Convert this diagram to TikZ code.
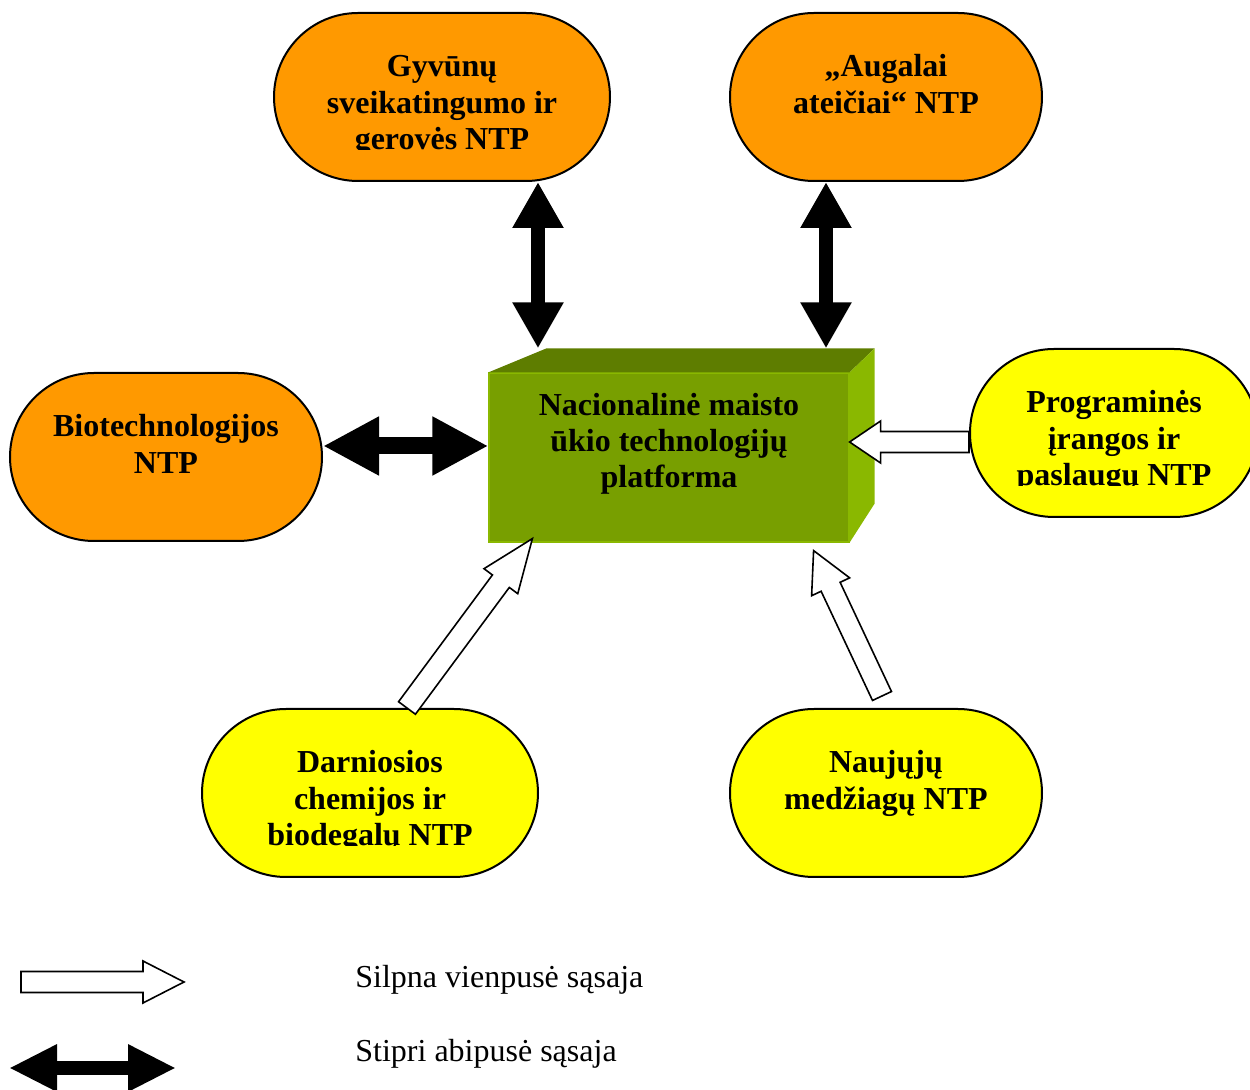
\documentclass[tikz,border=0pt]{standalone}
\usepackage{fontspec}
\setmainfont{Liberation Serif}
\usetikzlibrary{calc,arrows.meta}
\definecolor{ntporange}{HTML}{FF9900}
\definecolor{ntpyellow}{HTML}{FFFF00}
\definecolor{platfront}{HTML}{789F00}
\definecolor{plattop}{HTML}{5E7D00}
\definecolor{platside}{HTML}{8AB800}
\tikzset{
  ntp/.style={rectangle, draw, line width=1pt, rounded corners=42pt, minimum height=84pt, inner sep=0pt},
  ntptext/.style={align=center, font=\fontsize{16}{18.2}\selectfont\bfseries, inner sep=0pt},
  legtext/.style={font=\fontsize{16}{18}\selectfont, inner sep=0pt},
  platbox/.style={rectangle, fill=platfront, draw=platside, line width=0.6pt, minimum width=180pt, minimum height=84.5pt, inner sep=0pt},
  silpnaline/.style={draw, line width=0.8pt, fill=white, line join=miter}
}
\newcommand{\ntpnode}[5] {\node at (#1) (#2) [ntp, fill=#3, minimum width=#4] {};
  \begin{scope}
  \clip ([yshift=1pt]#2.north west) rectangle ([yshift=16pt]#2.south east);
  \node at ([yshift=-19.4pt]#2.north) (#2txt) [ntptext, anchor=north] {\strut #5};
  \end{scope}}
\newcommand{\silpnaarrow}[3] {\coordinate (nk) at ($(#2)!#3!(#1)$);
  \draw [silpnaline] ($(#1)!5.25pt!90:(#2)$) -- ($(nk)!5.25pt!90:(#2)$) -- ($(nk)!10.5pt!90:(#2)$) -- (#2)
    -- ($(nk)!10.5pt!-90:(#2)$) -- ($(nk)!5.25pt!-90:(#2)$) -- ($(#1)!5.25pt!-90:(#2)$) -- cycle;}
\newcommand{\stipriarrow}[5] {\draw [line width=#3, {Triangle[length=#5,width=#4]}-{Triangle[length=#5,width=#4]}] (#1) -- (#2);}
\begin{document}
\begin{tikzpicture}[x=0.5pt, y=-0.5pt]
\clip (0,0) rectangle (1250,1090);

\ntpnode {442,97} {gyv} {ntporange} {168pt} {Gyvūnų\\ sveikatingumo ir\\ gerovės NTP};
\ntpnode {886,97} {aug} {ntporange} {156pt} {„Augalai\\ ateičiai“ NTP};
\ntpnode {166,457} {bio} {ntporange} {156pt} {Biotechnologijos\\ NTP};
\ntpnode {1114,433} {prog} {ntpyellow} {144pt} {Programinės\\ įrangos ir\\ paslaugų NTP};
\ntpnode {370,793} {darn} {ntpyellow} {168pt} {Darniosios\\ chemijos ir\\ biodegalų NTP};
\ntpnode {886,793} {nauj} {ntpyellow} {156pt} {Naujųjų\\ medžiagų NTP};

\node at (669,457.5) (plat) [platbox] {};
\fill [plattop] (plat.north west) -- ([xshift=29pt,yshift=12pt]plat.north west) -- ([xshift=12.5pt,yshift=12pt]plat.north east) -- (plat.north east) -- cycle;
\fill [platside] (plat.north east) -- ([xshift=12.5pt,yshift=12pt]plat.north east) -- ([xshift=12.5pt,yshift=19.5pt]plat.south east) -- (plat.south east) -- cycle;
\node at ([yshift=-8.4pt]plat.north) (platlbl) [ntptext, anchor=north] {\strut Nacionalinė maisto\\ ūkio technologijų\\ platforma};

\coordinate (platbk) at ([yshift=12pt]plat.north);
\coordinate (gyvdn) at ([xshift=48pt]gyv.south);
\coordinate (platg) at (gyvdn |- platbk);
\coordinate (augdn) at ([xshift=-30pt]aug.south);
\coordinate (plata) at (augdn |- platbk);
\coordinate (bioe) at ([yshift=5.5pt]bio.east);
\coordinate (platb) at (bioe -| plat.west);
\coordinate (progw) at ([yshift=-4.5pt]prog.west);
\coordinate (platp) at (progw -| plat.east);
\coordinate (darnup) at ([xshift=18.5pt]darn.north);
\coordinate (platd) at ([xshift=22pt,yshift=2pt]plat.south west);
\coordinate (naujup) at ([xshift=-2pt,yshift=6pt]nauj.north);
\coordinate (platn) at ([xshift=-18pt,yshift=-4pt]plat.south east);

\stipriarrow {gyvdn}{platg}{7pt}{24pt}{23pt};
\stipriarrow {augdn}{plata}{7pt}{24pt}{23pt};
\stipriarrow {bioe}{platb}{8.5pt}{27.5pt}{28pt};

\silpnaarrow {progw}{platp}{15.5pt};
\silpnaarrow {darnup}{platd}{26.5pt};
\silpnaarrow {naujup}{platn}{20pt};

% legenda
\coordinate (lgw1) at (21,982);
\coordinate (lgw2) at (184,982);
\coordinate (lgb1) at (9,1068);
\coordinate (lgb2) at (176,1068);
\silpnaarrow {lgw1}{lgw2}{20.5pt};
\stipriarrow {lgb1}{lgb2}{7pt}{22pt}{24pt};
\node at (355,988) (legsilpna) [legtext, anchor=base west] {Silpna vienpusė sąsaja};
\node at (355,1062) (legstipri) [legtext, anchor=base west] {Stipri abipusė sąsaja};
\end{tikzpicture}
\end{document}
